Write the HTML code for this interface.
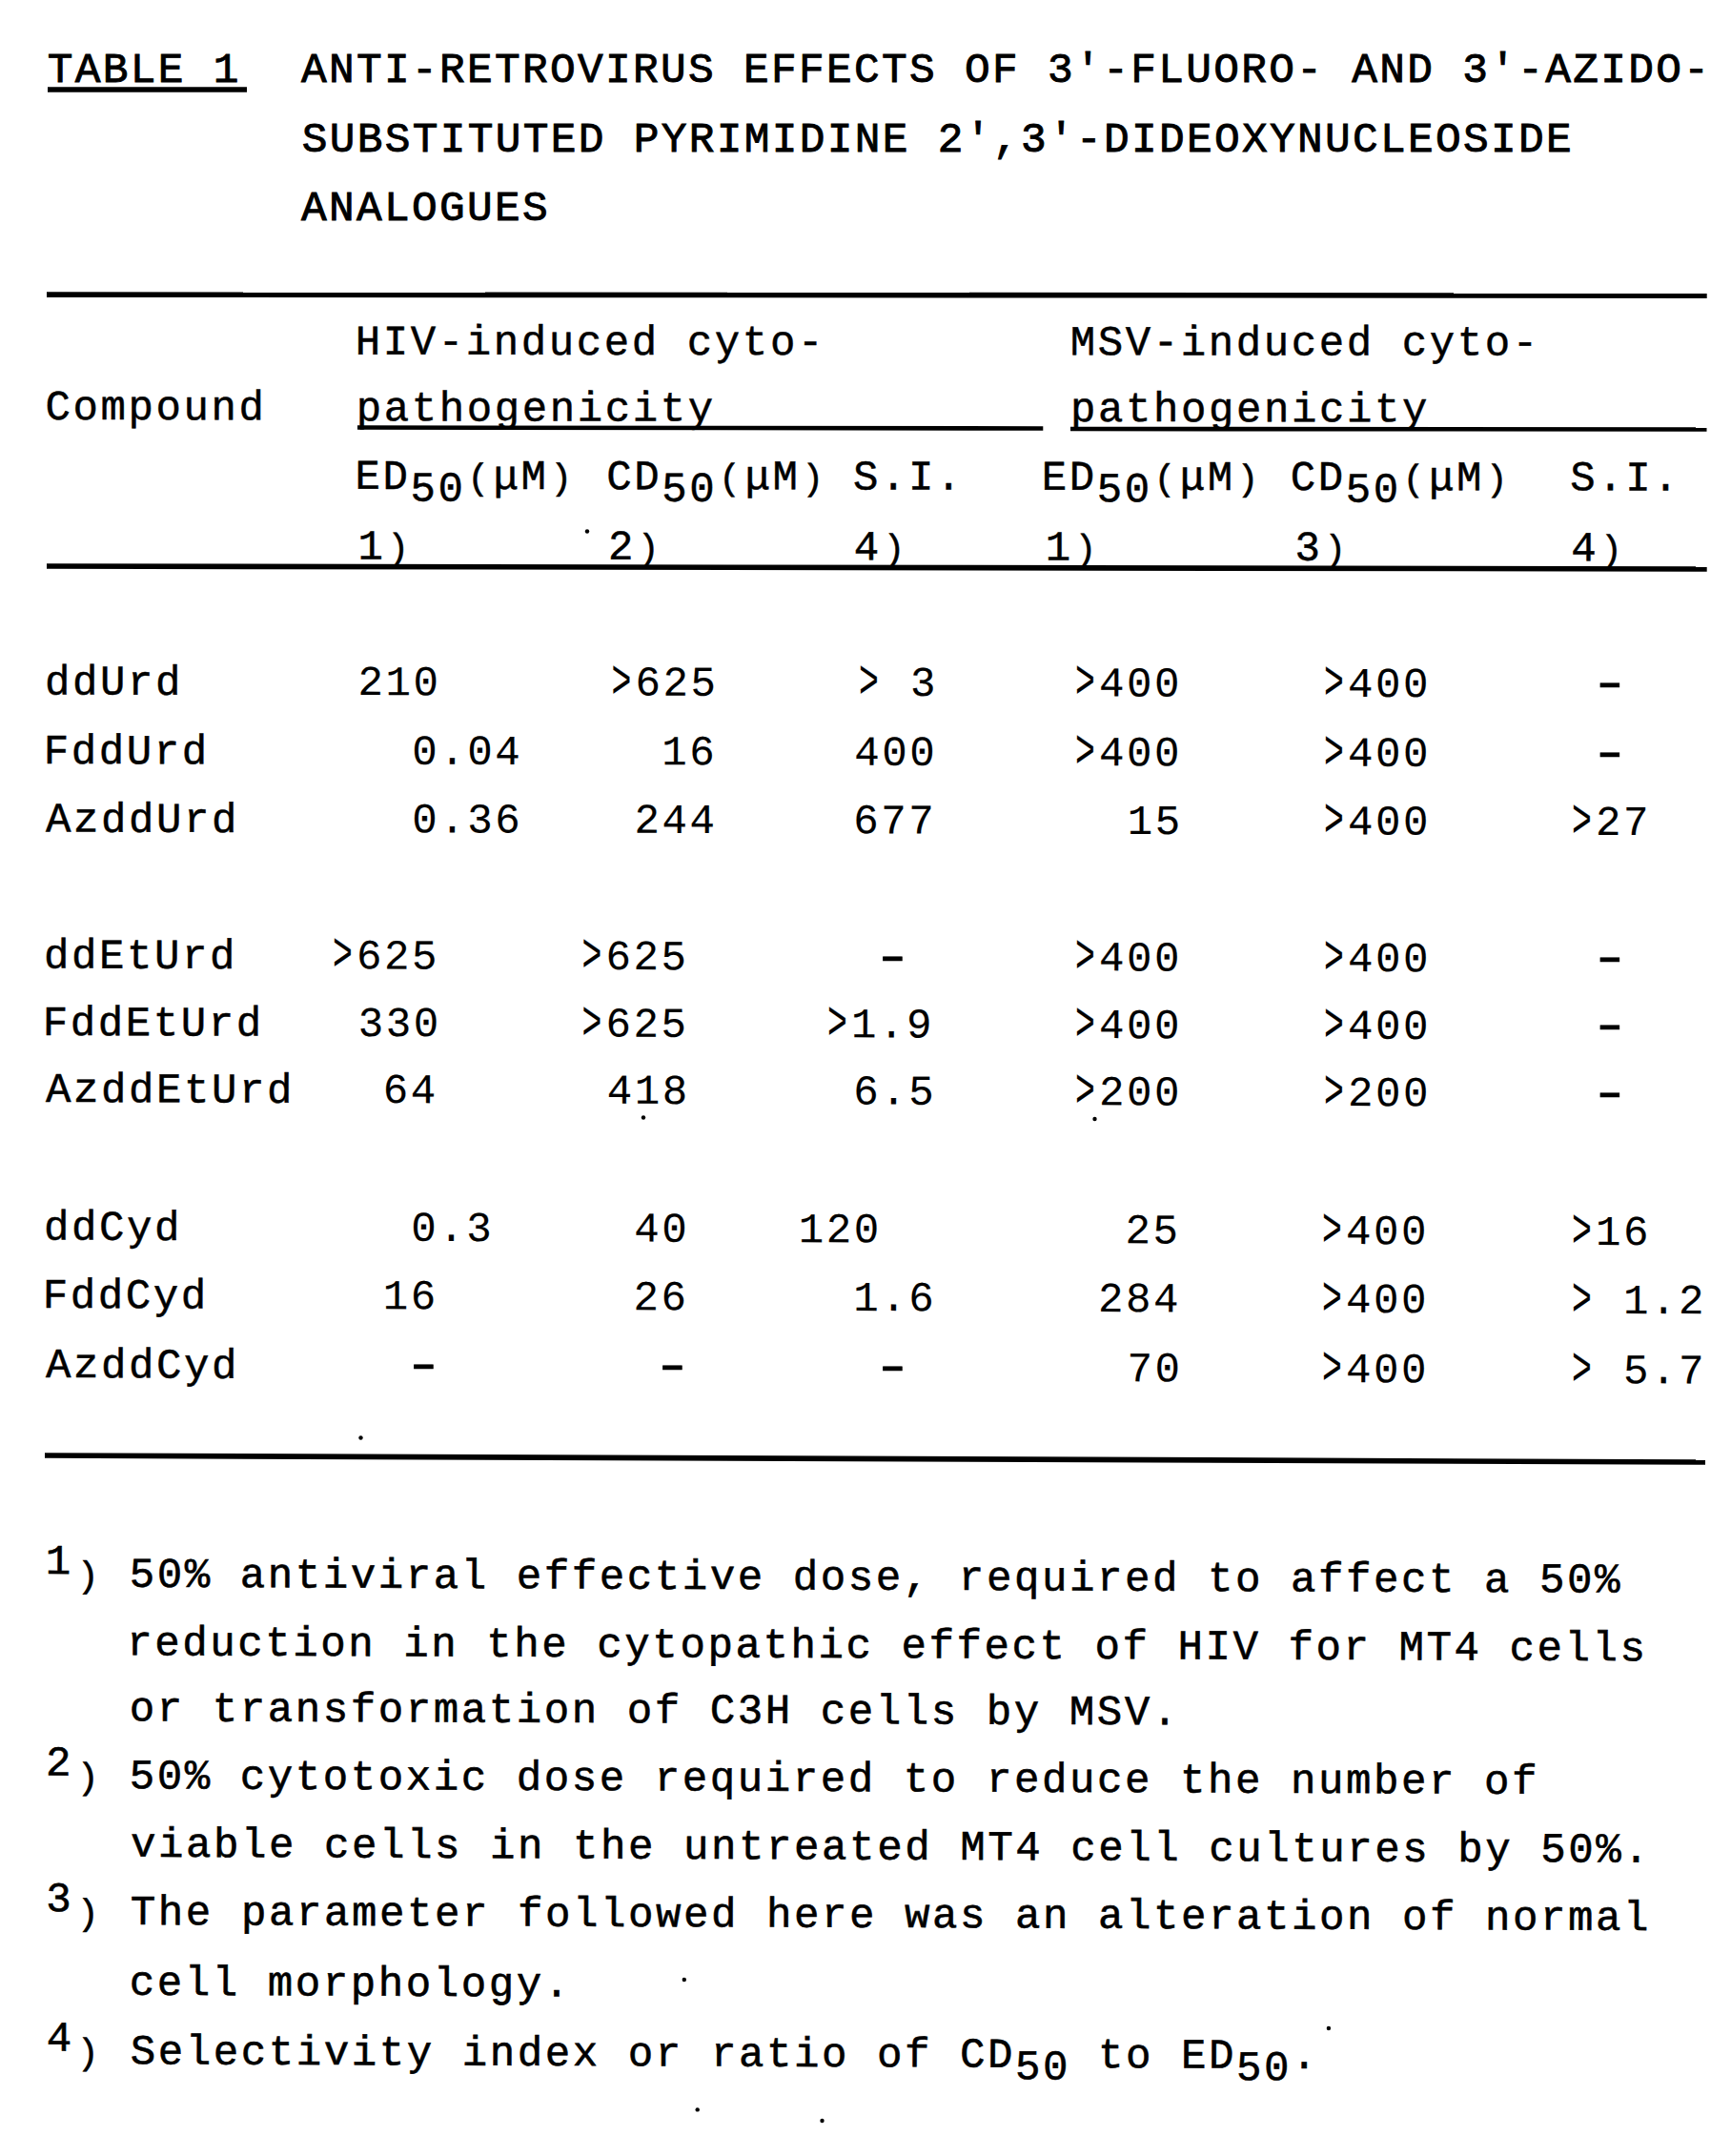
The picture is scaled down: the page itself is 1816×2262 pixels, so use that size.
<!DOCTYPE html>
<html><head><meta charset="utf-8"><title>Table 1</title><style>
html,body{margin:0;padding:0;background:#fff;}
svg{display:block;}
text{font-family:"Liberation Mono",monospace;font-size:44.00px;letter-spacing:2.600px;white-space:pre;fill:#000;}
text.t{font-size:44.50px;letter-spacing:2.300px;font-weight:normal;stroke:#000;stroke-width:0.90px;}
text.b{font-weight:normal;stroke:#000;stroke-width:0.50px;}
text.f{stroke:#000;stroke-width:0.60px;}
text.d{stroke:#000;stroke-width:0.15px;}
</style></head>
<body><svg width="1816" height="2262" viewBox="0 0 1816 2262">
<rect width="1816" height="2262" fill="#fff"/>
<g fill="#000">
<text class="t" x="49.65" y="86.30">TABLE 1</text>
<polygon points="50.0,91.3 259.0,91.3 259.0,96.7 50.0,96.7"/>
<text class="t" x="316.00" y="86.30">ANTI-RETROVIRUS EFFECTS OF 3&#x27;-FLUORO- AND 3&#x27;-AZIDO-</text>
<text class="t" x="316.78" y="159.30">SUBSTITUTED PYRIMIDINE 2&#x27;,3&#x27;-DIDEOXYNUCLEOSIDE</text>
<text class="t" x="316.00" y="231.00">ANALOGUES</text>
<polygon points="49.0,306.3 1790.7,307.3 1790.7,312.9 49.0,311.9"/>
<polygon points="375.0,446.2 1094.3,447.2 1094.3,451.8 375.0,450.8"/>
<polygon points="1123.0,447.7 1790.5,448.2 1790.5,452.8 1123.0,452.3"/>
<polygon points="49.0,591.2 1790.7,594.2 1790.7,599.8 49.0,596.8"/>
<polygon points="47.0,1524.2 1789.0,1531.2 1789.0,1536.8 47.0,1529.8"/>
<text class="b" x="372.82" y="371.74" transform="rotate(0.0430 372.82 371.74)">HIV-induced cyto-</text>
<text class="b" x="1122.73" y="372.31" transform="rotate(0.0430 1122.73 372.31)">MSV-induced cyto-</text>
<text class="b" x="47.57" y="440.00" transform="rotate(0.0541 47.57 440.00)">Compound</text>
<text class="b" x="373.65" y="441.31" transform="rotate(0.0542 373.65 441.31)">pathogenicity</text>
<text class="b" x="1122.95" y="442.02" transform="rotate(0.0542 1122.95 442.02)">pathogenicity</text>
<text class="b" x="372.52" y="512.87" transform="rotate(0.0658 372.52 512.87)"><tspan>ED</tspan><tspan dy="12.50">50</tspan><tspan font-size="38.28" dy="-12.50" dx="1.72">(</tspan><tspan dx="1.72">μM</tspan><tspan font-size="38.28" dx="1.72">)</tspan></text>
<text class="b" x="636.37" y="513.18" transform="rotate(0.0658 636.37 513.18)"><tspan>CD</tspan><tspan dy="12.50">50</tspan><tspan font-size="38.28" dy="-12.50" dx="1.72">(</tspan><tspan dx="1.72">μM</tspan><tspan font-size="38.28" dx="1.72">)</tspan></text>
<text class="b" x="895.10" y="513.47" transform="rotate(0.0658 895.10 513.47)">S.I.</text>
<text class="b" x="1092.82" y="513.70" transform="rotate(0.0658 1092.82 513.70)"><tspan>ED</tspan><tspan dy="12.50">50</tspan><tspan font-size="38.28" dy="-12.50" dx="1.72">(</tspan><tspan dx="1.72">μM</tspan><tspan font-size="38.28" dx="1.72">)</tspan></text>
<text class="b" x="1353.87" y="514.00" transform="rotate(0.0658 1353.87 514.00)"><tspan>CD</tspan><tspan dy="12.50">50</tspan><tspan font-size="38.28" dy="-12.50" dx="1.72">(</tspan><tspan dx="1.72">μM</tspan><tspan font-size="38.28" dx="1.72">)</tspan></text>
<text class="b" x="1647.30" y="514.34" transform="rotate(0.0658 1647.30 514.34)">S.I.</text>
<text class="b" x="375.62" y="586.45" transform="rotate(0.0776 375.62 586.45)"><tspan>1</tspan><tspan font-size="38.28" dx="1.72">)</tspan></text>
<text class="b" x="637.91" y="586.80" transform="rotate(0.0776 637.91 586.80)"><tspan>2</tspan><tspan font-size="38.28" dx="1.72">)</tspan></text>
<text class="b" x="895.79" y="587.15" transform="rotate(0.0776 895.79 587.15)"><tspan>4</tspan><tspan font-size="38.28" dx="1.72">)</tspan></text>
<text class="b" x="1096.82" y="587.42" transform="rotate(0.0776 1096.82 587.42)"><tspan>1</tspan><tspan font-size="38.28" dx="1.72">)</tspan></text>
<text class="b" x="1358.55" y="587.78" transform="rotate(0.0776 1358.55 587.78)"><tspan>3</tspan><tspan font-size="38.28" dx="1.72">)</tspan></text>
<text class="b" x="1648.29" y="588.17" transform="rotate(0.0776 1648.29 588.17)"><tspan>4</tspan><tspan font-size="38.28" dx="1.72">)</tspan></text>
<text class="b" x="47.04" y="728.50" transform="rotate(0.1006 47.04 728.50)">ddUrd</text>
<text class="d" x="375.41" y="729.08" transform="rotate(0.1006 375.41 729.08)">210</text>
<text class="d" transform="translate(641.50,731.54) scale(0.790,1.290)" x="0" y="0">&gt;</text>
<text class="d" x="666.50" y="729.59" transform="rotate(0.1006 666.50 729.59)">625</text>
<text class="d" transform="translate(901.00,732.00) scale(0.790,1.290)" x="0" y="0">&gt;</text>
<text class="d" x="955.00" y="730.09" transform="rotate(0.1006 955.00 730.09)">3</text>
<text class="d" transform="translate(1128.00,732.40) scale(0.790,1.290)" x="0" y="0">&gt;</text>
<text class="d" x="1153.00" y="730.44" transform="rotate(0.1006 1153.00 730.44)">400</text>
<text class="d" transform="translate(1389.00,732.85) scale(0.790,1.290)" x="0" y="0">&gt;</text>
<text class="d" x="1414.00" y="730.90" transform="rotate(0.1006 1414.00 730.90)">400</text>
<text class="b" transform="translate(1689.00,733.12) scale(1.64,1.22)" x="-13.19" y="0">-</text>
<text class="b" x="45.83" y="801.00" transform="rotate(0.1123 45.83 801.00)">FddUrd</text>
<text class="d" x="432.34" y="801.75" transform="rotate(0.1123 432.34 801.75)">0.04</text>
<text class="d" x="694.32" y="802.27" transform="rotate(0.1123 694.32 802.27)">16</text>
<text class="d" x="896.29" y="802.66" transform="rotate(0.1123 896.29 802.66)">400</text>
<text class="d" transform="translate(1128.00,805.12) scale(0.790,1.290)" x="0" y="0">&gt;</text>
<text class="d" x="1153.00" y="803.17" transform="rotate(0.1123 1153.00 803.17)">400</text>
<text class="d" transform="translate(1389.00,805.63) scale(0.790,1.290)" x="0" y="0">&gt;</text>
<text class="d" x="1414.00" y="803.68" transform="rotate(0.1123 1414.00 803.68)">400</text>
<text class="b" transform="translate(1689.00,805.95) scale(1.64,1.22)" x="-13.19" y="0">-</text>
<text class="b" x="48.00" y="872.50" transform="rotate(0.1238 48.00 872.50)">AzddUrd</text>
<text class="d" x="432.34" y="873.33" transform="rotate(0.1238 432.34 873.33)">0.36</text>
<text class="d" x="665.41" y="873.84" transform="rotate(0.1238 665.41 873.84)">244</text>
<text class="d" x="895.26" y="874.33" transform="rotate(0.1238 895.26 874.33)">677</text>
<text class="d" x="1182.82" y="874.96" transform="rotate(0.1238 1182.82 874.96)">15</text>
<text class="d" transform="translate(1389.00,877.40) scale(0.790,1.290)" x="0" y="0">&gt;</text>
<text class="d" x="1414.00" y="875.45" transform="rotate(0.1238 1414.00 875.45)">400</text>
<text class="d" transform="translate(1649.00,877.96) scale(0.790,1.290)" x="0" y="0">&gt;</text>
<text class="d" x="1674.00" y="876.02" transform="rotate(0.1238 1674.00 876.02)">27</text>
<text class="b" x="46.04" y="1015.50" transform="rotate(0.1469 46.04 1015.50)">ddEtUrd</text>
<text class="d" transform="translate(349.00,1018.27) scale(0.790,1.290)" x="0" y="0">&gt;</text>
<text class="d" x="374.00" y="1016.34" transform="rotate(0.1469 374.00 1016.34)">625</text>
<text class="d" transform="translate(610.50,1018.94) scale(0.790,1.290)" x="0" y="0">&gt;</text>
<text class="d" x="635.50" y="1017.01" transform="rotate(0.1469 635.50 1017.01)">625</text>
<text class="b" transform="translate(936.50,1019.51) scale(1.64,1.22)" x="-13.19" y="0">-</text>
<text class="d" transform="translate(1128.00,1020.27) scale(0.790,1.290)" x="0" y="0">&gt;</text>
<text class="d" x="1153.00" y="1018.33" transform="rotate(0.1469 1153.00 1018.33)">400</text>
<text class="d" transform="translate(1389.00,1020.94) scale(0.790,1.290)" x="0" y="0">&gt;</text>
<text class="d" x="1414.00" y="1019.00" transform="rotate(0.1469 1414.00 1019.00)">400</text>
<text class="b" transform="translate(1689.00,1021.43) scale(1.64,1.22)" x="-13.19" y="0">-</text>
<text class="b" x="44.83" y="1086.00" transform="rotate(0.1583 44.83 1086.00)">FddEtUrd</text>
<text class="d" x="375.75" y="1086.91" transform="rotate(0.1583 375.75 1086.91)">330</text>
<text class="d" transform="translate(610.50,1089.55) scale(0.790,1.290)" x="0" y="0">&gt;</text>
<text class="d" x="635.50" y="1087.63" transform="rotate(0.1583 635.50 1087.63)">625</text>
<text class="d" transform="translate(868.00,1090.27) scale(0.790,1.290)" x="0" y="0">&gt;</text>
<text class="d" x="893.00" y="1088.34" transform="rotate(0.1583 893.00 1088.34)">1.9</text>
<text class="d" transform="translate(1128.00,1090.98) scale(0.790,1.290)" x="0" y="0">&gt;</text>
<text class="d" x="1153.00" y="1089.05" transform="rotate(0.1583 1153.00 1089.05)">400</text>
<text class="d" transform="translate(1389.00,1091.70) scale(0.790,1.290)" x="0" y="0">&gt;</text>
<text class="d" x="1414.00" y="1089.77" transform="rotate(0.1583 1414.00 1089.77)">400</text>
<text class="b" transform="translate(1689.00,1092.26) scale(1.64,1.22)" x="-13.19" y="0">-</text>
<text class="b" x="48.00" y="1155.99" transform="rotate(0.1696 48.00 1155.99)">AzddEtUrd</text>
<text class="d" x="401.76" y="1157.05" transform="rotate(0.1696 401.76 1157.05)">64</text>
<text class="d" x="636.79" y="1157.74" transform="rotate(0.1696 636.79 1157.74)">418</text>
<text class="d" x="895.26" y="1158.51" transform="rotate(0.1696 895.26 1158.51)">6.5</text>
<text class="d" transform="translate(1128.00,1161.20) scale(0.790,1.290)" x="0" y="0">&gt;</text>
<text class="d" x="1153.00" y="1159.27" transform="rotate(0.1696 1153.00 1159.27)">200</text>
<text class="d" transform="translate(1389.00,1161.97) scale(0.790,1.290)" x="0" y="0">&gt;</text>
<text class="d" x="1414.00" y="1160.05" transform="rotate(0.1696 1414.00 1160.05)">200</text>
<text class="b" transform="translate(1689.00,1162.58) scale(1.64,1.22)" x="-13.19" y="0">-</text>
<text class="b" x="46.04" y="1300.50" transform="rotate(0.1929 46.04 1300.50)">ddCyd</text>
<text class="d" x="431.34" y="1301.79" transform="rotate(0.1929 431.34 1301.79)">0.3</text>
<text class="d" x="665.29" y="1302.58" transform="rotate(0.1929 665.29 1302.58)">40</text>
<text class="d" x="837.82" y="1303.16" transform="rotate(0.1929 837.82 1303.16)">120</text>
<text class="d" x="1180.41" y="1304.32" transform="rotate(0.1929 1180.41 1304.32)">25</text>
<text class="d" transform="translate(1387.00,1307.01) scale(0.790,1.290)" x="0" y="0">&gt;</text>
<text class="d" x="1412.00" y="1305.09" transform="rotate(0.1929 1412.00 1305.09)">400</text>
<text class="d" transform="translate(1649.00,1307.89) scale(0.790,1.290)" x="0" y="0">&gt;</text>
<text class="d" x="1674.00" y="1305.98" transform="rotate(0.1929 1674.00 1305.98)">16</text>
<text class="b" x="44.83" y="1372.00" transform="rotate(0.2044 44.83 1372.00)">FddCyd</text>
<text class="d" x="401.82" y="1373.27" transform="rotate(0.2044 401.82 1373.27)">16</text>
<text class="d" x="664.41" y="1374.20" transform="rotate(0.2044 664.41 1374.20)">26</text>
<text class="d" x="895.32" y="1375.03" transform="rotate(0.2044 895.32 1375.03)">1.6</text>
<text class="d" x="1151.91" y="1375.94" transform="rotate(0.2044 1151.91 1375.94)">284</text>
<text class="d" transform="translate(1387.00,1378.78) scale(0.790,1.290)" x="0" y="0">&gt;</text>
<text class="d" x="1412.00" y="1376.87" transform="rotate(0.2044 1412.00 1376.87)">400</text>
<text class="d" transform="translate(1649.00,1379.71) scale(0.790,1.290)" x="0" y="0">&gt;</text>
<text class="d" x="1703.00" y="1377.91" transform="rotate(0.2044 1703.00 1377.91)">1.2</text>
<text class="b" x="48.00" y="1444.99" transform="rotate(0.2140 48.00 1444.99)">AzddCyd</text>
<text class="b" transform="translate(444.50,1448.19) scale(1.64,1.22)" x="-13.19" y="0">-</text>
<text class="b" transform="translate(705.50,1449.17) scale(1.64,1.22)" x="-13.19" y="0">-</text>
<text class="b" transform="translate(936.50,1450.03) scale(1.64,1.22)" x="-13.19" y="0">-</text>
<text class="d" x="1182.61" y="1449.24" transform="rotate(0.2140 1182.61 1449.24)">70</text>
<text class="d" transform="translate(1387.00,1452.00) scale(0.790,1.290)" x="0" y="0">&gt;</text>
<text class="d" x="1412.00" y="1450.10" transform="rotate(0.2140 1412.00 1450.10)">400</text>
<text class="d" transform="translate(1649.00,1452.98) scale(0.790,1.290)" x="0" y="0">&gt;</text>
<text class="d" x="1703.00" y="1451.19" transform="rotate(0.2140 1703.00 1451.19)">5.7</text>
<text class="f" x="47.82" y="1651.00" transform="rotate(0.2140 47.82 1651.00)">1</text>
<text class="f" x="78.98" y="1664.64" transform="rotate(0.2140 78.98 1664.64)"><tspan font-size="38.28" dx="1.72">)</tspan></text>
<text class="f" x="135.75" y="1664.83" transform="rotate(0.2140 135.75 1664.83)">50% antiviral effective dose, required to affect a 50%</text>
<text class="f" x="133.30" y="1736.33" transform="rotate(0.2140 133.30 1736.33)">reduction in the cytopathic effect of HIV for MT4 cells</text>
<text class="f" x="135.71" y="1805.33" transform="rotate(0.2140 135.71 1805.33)">or transformation of C3H cells by MSV.</text>
<text class="f" x="47.91" y="1862.50" transform="rotate(0.2140 47.91 1862.50)">2</text>
<text class="f" x="78.98" y="1876.14" transform="rotate(0.2140 78.98 1876.14)"><tspan font-size="38.28" dx="1.72">)</tspan></text>
<text class="f" x="135.75" y="1876.33" transform="rotate(0.2140 135.75 1876.33)">50% cytotoxic dose required to reduce the number of</text>
<text class="f" x="137.02" y="1947.83" transform="rotate(0.2140 137.02 1947.83)">viable cells in the untreated MT4 cell cultures by 50%.</text>
<text class="f" x="48.25" y="2005.25" transform="rotate(0.2140 48.25 2005.25)">3</text>
<text class="f" x="78.98" y="2018.89" transform="rotate(0.2140 78.98 2018.89)"><tspan font-size="38.28" dx="1.72">)</tspan></text>
<text class="f" x="136.87" y="2019.08" transform="rotate(0.2140 136.87 2019.08)">The parameter followed here was an alteration of normal</text>
<text class="f" x="135.71" y="2092.83" transform="rotate(0.2140 135.71 2092.83)">cell morphology.</text>
<text class="f" x="48.79" y="2151.50" transform="rotate(0.2140 48.79 2151.50)">4</text>
<text class="f" x="78.98" y="2165.14" transform="rotate(0.2140 78.98 2165.14)"><tspan font-size="38.28" dx="1.72">)</tspan></text>
<text class="f" x="136.80" y="2165.33" transform="rotate(0.2140 136.80 2165.33)"><tspan>Selectivity index or ratio of CD</tspan><tspan dy="12.50">50</tspan><tspan dy="-12.50"> to ED</tspan><tspan dy="12.50">50</tspan><tspan dy="-12.50">.</tspan></text>
<circle cx="616.0" cy="557.5" r="2.2"/>
<circle cx="675.0" cy="1172.5" r="2.2"/>
<circle cx="1148.5" cy="1174.0" r="2.2"/>
<circle cx="378.5" cy="1508.5" r="2.2"/>
<circle cx="717.8" cy="2077.0" r="2.2"/>
<circle cx="1393.9" cy="2128.0" r="2.2"/>
<circle cx="731.7" cy="2213.4" r="2.2"/>
<circle cx="862.5" cy="2225.0" r="2.2"/>
</g></svg></body></html>
